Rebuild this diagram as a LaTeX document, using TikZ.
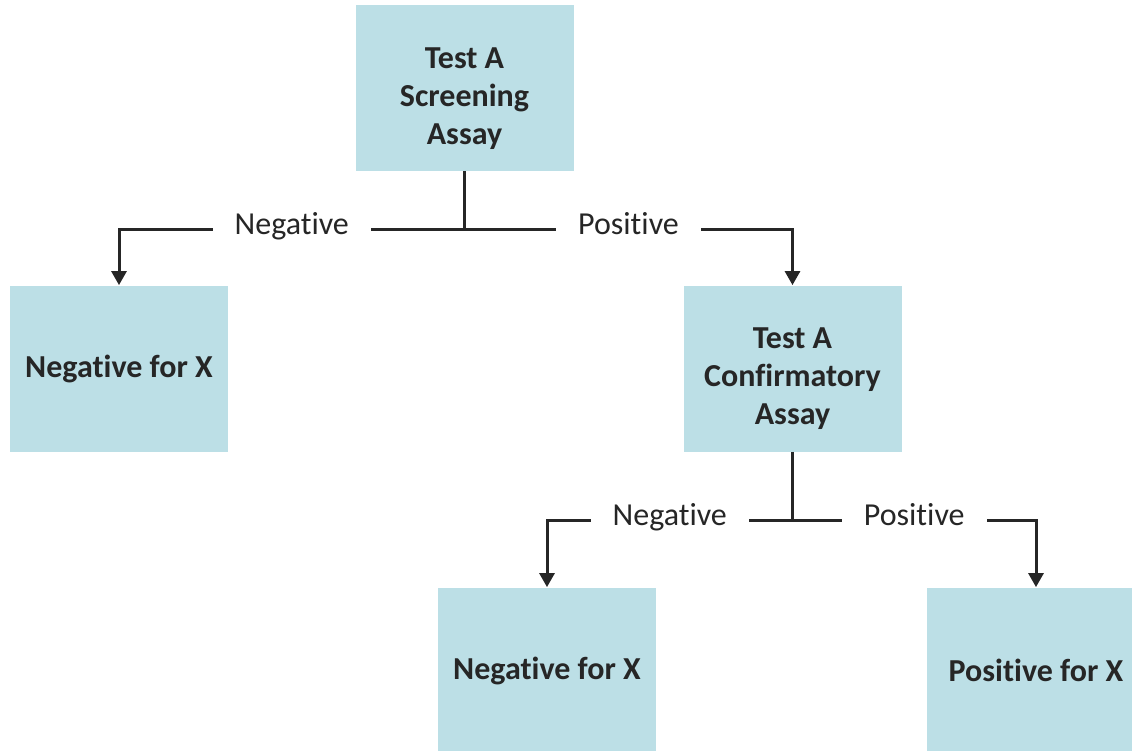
\documentclass[tikz,border=0pt]{standalone}
\usepackage{fontspec}
\setmainfont{Carlito}[RawFeature={-liga;-dlig;-clig;-calt;-rlig}]
\usetikzlibrary{arrows.meta}
\definecolor{assaybg}{HTML}{BCDFE6}
\definecolor{inkgray}{HTML}{262626}
\newcommand{\toppad}{\rule{0pt}{21pt}}

\begin{document}
\begin{tikzpicture}[
    x=0.5pt, y=-0.5pt,
    >={Triangle[length=7pt, width=7.5pt]},
    every node/.style={font=\fontsize{16}{19}\selectfont, text=inkgray},
    assay/.style={
      rectangle, fill=assaybg, minimum width=109pt, minimum height=83pt,
      inner sep=0pt, align=center,
      font=\fontsize{16}{19}\selectfont\bfseries
    },
    link/.style={line width=1.5pt, draw=inkgray},
    arr/.style={link, ->},
    branch/.style={fill=white, inner xsep=11pt, inner ysep=3pt,
      text height=11pt, text depth=3pt, yshift=1.5pt},
  ]

  \useasboundingbox (0,0) rectangle (1132,751);
  \clip (0,0) rectangle (1132,751);

  \node[assay] (screen)  at (464.5,88)   {\toppad Test A\\Screening\\Assay};
  \node[assay] (neg1)    at (119,368.5)  {Negative for X};
  \node[assay] (confirm) at (792.5,368.5) {\toppad Test A\\Confirmatory\\Assay};
  \node[assay] (neg2)    at (547,670.5)  {Negative for X};
  \node[assay] (pos)     at (1036,670.5) {Positive for X};

  \coordinate (split1) at (screen.south |- 0,229);
  \coordinate (split2) at (confirm.south |- 0,520);

  \draw[link] (screen) -- (split1);
  \draw[arr] (split1) -| (neg1) node[pos=0.25, branch] {Negative};
  \draw[arr] (split1) -| (confirm) node[pos=0.25, branch] {Positive};

  \draw[link] (confirm) -- (split2);
  \draw[arr] (split2) -| (neg2) node[pos=0.25, branch] {Negative};
  \draw[arr] (split2) -| (pos) node[pos=0.25, branch] {Positive};

\end{tikzpicture}
\end{document}
